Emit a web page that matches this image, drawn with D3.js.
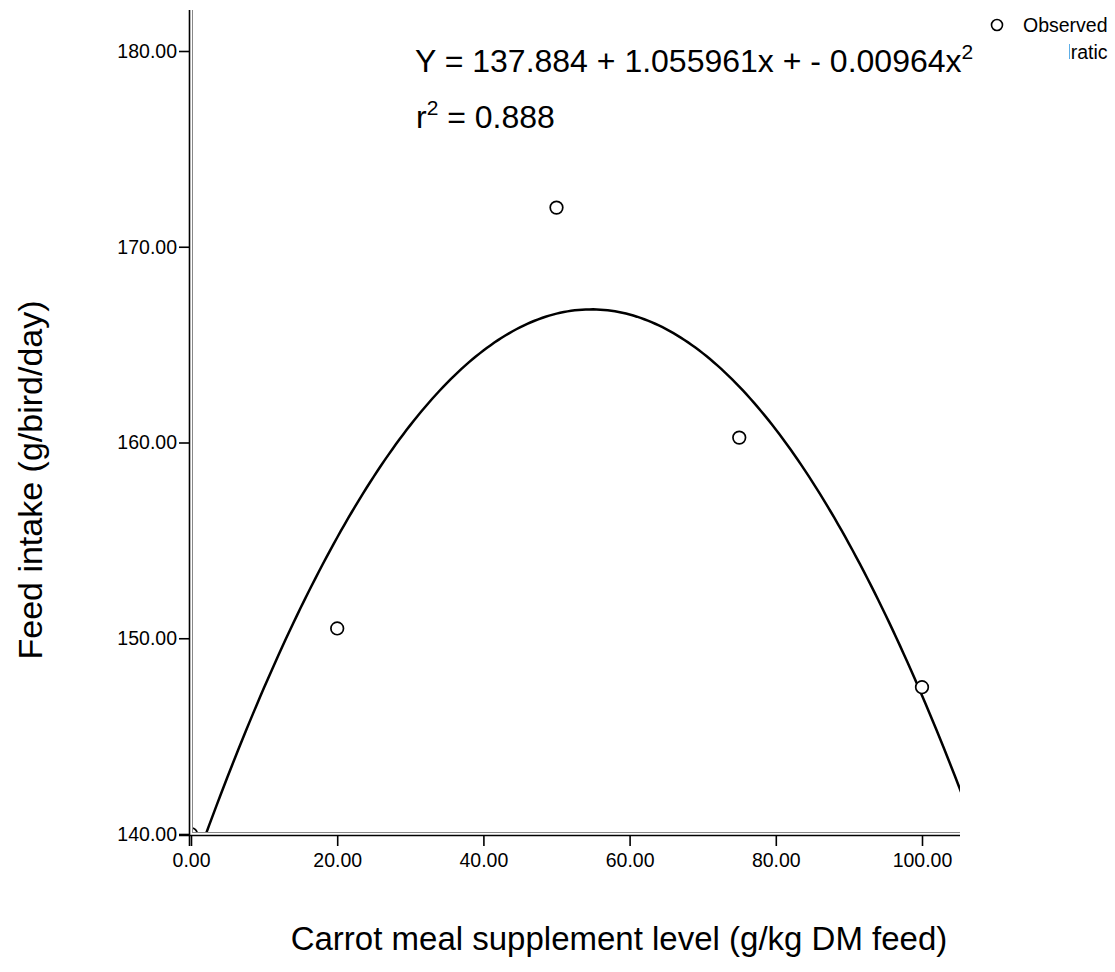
<!DOCTYPE html>
<html>
<head>
<meta charset="utf-8">
<script src="https://cdn.jsdelivr.net/npm/d3@7"></script>
<style>
  body { margin: 0; background: #fff; }
  text { font-family: "Liberation Sans", Arial, sans-serif; fill: #000; }
</style>
</head>
<body>
<div id="chart"></div>
<script>
// Observed points (carrot meal level, feed intake)
const levels = [0, 20, 50, 75, 100];
const intake = [140.0, 150.5, 172.0, 160.25, 147.5];

// Quadratic fit coefficients shown on the chart: b0 + b1*x + b2*x^2
const coef = [137.884, 1.055961, -0.00964];
const rSquared = 0.888;

const xTicks = [0, 20, 40, 60, 80, 100];
const yTicks = [140, 150, 160, 170, 180];

const width = 1115, height = 972;

const svg = d3.select("#chart").append("svg")
    .attr("width", width)
    .attr("height", height);

// Scales (x: 0 -> 191px, 100 -> 922px; y: 140 -> 834px, 180 -> 51px)
const x = d3.scaleLinear().domain([0, 100]).range([191, 922]);
const y = d3.scaleLinear().domain([140, 180]).range([834, 51]);

const plotLeft = 192, plotRight = 960, plotTop = 10, plotBottom = 832;

svg.append("clipPath").attr("id", "plotClip")
    .append("rect")
    .attr("x", plotLeft).attr("y", plotTop)
    .attr("width", plotRight - plotLeft).attr("height", plotBottom - plotTop);

// Fit curve
const xMax = x.invert(plotRight);
const curvePts = d3.range(0, xMax + 0.5, 0.5).map(function (v) {
    return [v, coef[0] + coef[1] * v + coef[2] * v * v];
});
const line = d3.line()
    .x(function (d) { return x(d[0]); })
    .y(function (d) { return y(d[1]); });

svg.append("path")
    .datum(curvePts)
    .attr("clip-path", "url(#plotClip)")
    .attr("d", line)
    .attr("fill", "none")
    .attr("stroke", "#000")
    .attr("stroke-width", 2.5);

// Observed points
svg.append("g")
    .attr("clip-path", "url(#plotClip)")
    .selectAll("circle")
    .data(levels)
    .join("circle")
    .attr("cx", function (d) { return x(d); })
    .attr("cy", function (d, i) { return y(intake[i]); })
    .attr("r", 6.3)
    .attr("fill", "#fff")
    .attr("stroke", "#000")
    .attr("stroke-width", 1.7);

// Frame lines (double line look)
svg.append("line").attr("x1", 189.5).attr("x2", 189.5).attr("y1", 10).attr("y2", 846)
    .attr("stroke", "#000").attr("stroke-width", 1.6);
svg.append("line").attr("x1", 192.5).attr("x2", 192.5).attr("y1", 10).attr("y2", 832)
    .attr("stroke", "#888").attr("stroke-width", 1);
svg.append("line").attr("x1", 179).attr("x2", plotRight).attr("y1", 835.5).attr("y2", 835.5)
    .attr("stroke", "#000").attr("stroke-width", 1.6);
svg.append("line").attr("x1", 192).attr("x2", plotRight).attr("y1", 832.5).attr("y2", 832.5)
    .attr("stroke", "#888").attr("stroke-width", 1);

// Axes
const xAxis = svg.append("g")
    .attr("transform", "translate(0,836)")
    .call(d3.axisBottom(x).tickValues(xTicks).tickFormat(d3.format(".2f"))
        .tickSize(10).tickPadding(7));
const yAxis = svg.append("g")
    .attr("transform", "translate(189,0)")
    .call(d3.axisLeft(y).tickValues(yTicks).tickFormat(d3.format(".2f"))
        .tickSize(10).tickPadding(2));
[xAxis, yAxis].forEach(function (g) {
    g.select(".domain").remove();
    g.selectAll(".tick line").attr("stroke", "#000").attr("stroke-width", 1.6);
    g.selectAll(".tick text")
        .style("font-family", '"Liberation Sans", Arial, sans-serif')
        .style("font-size", "19.5px");
});

// Axis titles
svg.append("text")
    .attr("x", 619).attr("y", 950)
    .attr("text-anchor", "middle")
    .style("font-size", "33px")
    .text("Carrot meal supplement level (g/kg DM feed)");

svg.append("text")
    .attr("transform", "translate(42,480) rotate(-90)")
    .attr("text-anchor", "middle")
    .style("font-size", "34px")
    .text("Feed intake (g/bird/day)");

// Equation
const eq = svg.append("text").attr("x", 415).attr("y", 72).style("font-size", "32px");
eq.append("tspan").text("Y = " + coef[0] + " + " + coef[1] + "x + - " + Math.abs(coef[2]) + "x");
eq.append("tspan").attr("dy", -13).style("font-size", "21px").text("2");

const r2 = svg.append("text").attr("x", 416).attr("y", 128).style("font-size", "32px");
r2.append("tspan").text("r");
r2.append("tspan").attr("dy", -13).style("font-size", "21px").text("2");
r2.append("tspan").attr("dy", 13).text(" = " + rSquared);

// Legend
const legend = svg.append("g");
legend.append("circle").attr("cx", 997).attr("cy", 25).attr("r", 5.5)
    .attr("fill", "#fff").attr("stroke", "#000").attr("stroke-width", 1.6);
legend.append("text").attr("x", 1023).attr("y", 32).style("font-size", "19.5px").text("Observed");
legend.append("text").attr("x", 1023).attr("y", 59).style("font-size", "19.5px").text("Quadratic");
// part of the second legend entry is hidden behind a white box
legend.append("rect").attr("x", 985).attr("y", 40).attr("width", 84).attr("height", 26)
    .attr("fill", "#fff");
</script>
</body>
</html>
